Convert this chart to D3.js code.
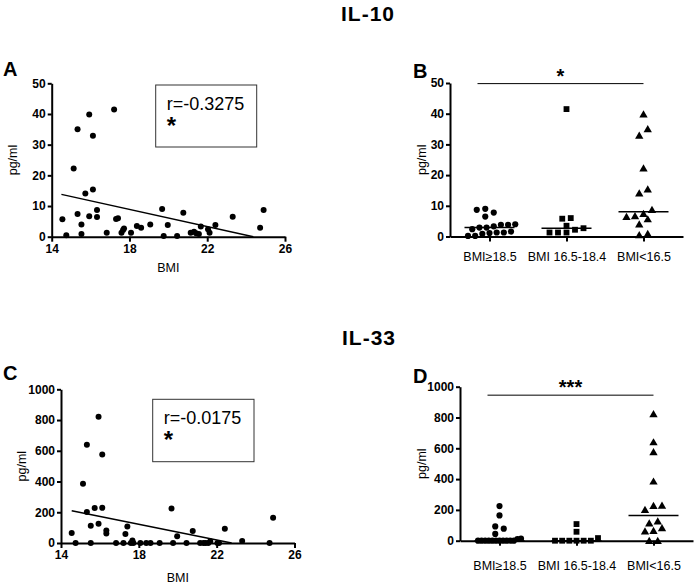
<!DOCTYPE html>
<html>
<head>
<meta charset="utf-8">
<script src="https://cdn.jsdelivr.net/npm/d3@7"></script>
<style>
  html, body { margin: 0; padding: 0; background: #fff; }
  svg { display: block; font-family: "Liberation Sans", Arial, sans-serif; }
</style>
</head>
<body>
<svg id="chart" width="696" height="585"></svg>
<script>
// ---------------- DATA ----------------
// BMI of each patient (shared by panels A and C)
const bmi = [14.55, 14.75, 15.13, 15.33, 15.33, 15.53, 15.53, 15.73, 15.93, 15.93,
             16.12, 16.12, 16.33, 16.33, 16.83, 17.21, 17.31, 17.41, 17.59, 17.67,
             17.72, 18.08, 18.38, 18.6, 19.07, 19.68, 19.76, 19.97, 20.45, 20.77,
             21.15, 21.32, 21.43, 21.57, 21.67, 22.04, 22.12, 22.42, 23.31, 24.72, 24.9];
// IL-10 (pg/ml) per patient
const il10 = [5.65, 0.5, 22.2, 35.0, 7.4, 4.0, 0.9, 14.1, 39.8, 6.7,
              32.9, 15.4, 8.7, 6.4, 1.3, 41.5, 5.8, 6.0, 1.3, 2.2,
              2.7, 1.3, 3.5, 2.9, 4.0, 9.0, 0.2, 3.8, 0.2, 7.8,
              1.3, 1.6, 1.1, 0.9, 3.3, 2.4, 1.3, 3.8, 6.5, 2.9, 8.7];
// IL-33 (pg/ml) per patient
const il33 = [65, 0, 385, 640, 201, 113, 0, 227, 822, 126,
              576, 229, 82, 61, 0, 0, 58, 108, 0, 17,
              0, 0, 0, 0, 0, 225, 0, 44, 0, 78,
              0, 0, 0, 0, 11, 0, 0, 93, 13, 0, 164];

const groupLabels = ["BMI\u226518.5", "BMI 16.5-18.4", "BMI<16.5"];
const groupMin = [18.5, 16.5, -Infinity];   // lower BMI bound of each group
const bmiTicks = [14, 18, 22, 26];
const il10Ticks = [0, 10, 20, 30, 40, 50];
const il33Ticks = [0, 200, 400, 600, 800, 1000];

// regression lines (end points)
const fitBmi10 = [14.5, 24.37], fitIl10 = [13.8, 0];
const fitBmi33 = [14.55, 22.77], fitIl33 = [210, 0];

const rLabels = ["r=-0.3275", "r=-0.0175"];
const rStars = ["*", "*"];
const sigStars = ["*", "***"];
const sigLevel = [49.8, 945];

// ---------------- LAYOUT ----------------
const svg = d3.select("#chart");
const FONT = "'Liberation Sans', Arial, sans-serif";
const fmt = d3.format("d");

function groupOf(b) { return groupMin.findIndex(m => b >= m); }

function styleTickText(sel, size, bold) {
  sel.style("font-family", FONT).style("font-size", size + "px")
    .style("font-weight", bold ? "bold" : "normal").attr("fill", "#000");
}

function yAxis(g, y, ticks) {
  const ax = g.append("g").attr("transform", `translate(${y.xPos},0)`)
    .call(d3.axisLeft(y).tickValues(ticks).tickFormat(fmt).tickSize(4).tickSizeOuter(0).tickPadding(2));
  ax.select(".domain").attr("stroke", "#000").attr("stroke-width", 2);
  ax.selectAll(".tick line").attr("stroke", "#000").attr("stroke-width", 2);
  styleTickText(ax.selectAll(".tick text"), 12, true);
  return ax;
}

function scatterPanel(p) {
  const g = svg.append("g");
  const x = d3.scaleLinear().domain([14, 26]).range([p.x0, p.x1]);
  const y = d3.scaleLinear().domain([0, p.ymax]).range([p.y0, p.y1]);
  y.xPos = p.x0;
  const xa = g.append("g").attr("transform", `translate(0,${p.y0})`)
    .call(d3.axisBottom(x).tickValues(bmiTicks).tickFormat(fmt).tickSize(5).tickSizeOuter(0).tickPadding(p.xPad));
  xa.select(".domain").attr("stroke", "#000").attr("stroke-width", 2);
  xa.selectAll(".tick line").attr("stroke", "#000").attr("stroke-width", 2);
  styleTickText(xa.selectAll(".tick text"), 12, true);
  yAxis(g, y, p.ticks);

  g.selectAll("circle.pt").data(bmi.map((b, i) => [b, p.values[i]])).join("circle")
    .attr("class", "pt").attr("cx", d => x(d[0])).attr("cy", d => y(d[1]))
    .attr("r", 3).attr("fill", "#000");

  g.append("line")
    .attr("x1", x(p.fitX[0])).attr("y1", y(p.fitY[0]))
    .attr("x2", x(p.fitX[1])).attr("y2", y(p.fitY[1]))
    .attr("stroke", "#000").attr("stroke-width", 1.5);

  // r box
  g.append("rect").attr("x", p.box[0]).attr("y", p.box[1])
    .attr("width", p.box[2]).attr("height", p.box[3])
    .attr("fill", "none").attr("stroke", "#333").attr("stroke-width", 1);
  g.append("text").attr("x", p.box[0] + 11).attr("y", p.box[1] + 25)
    .attr("font-family", FONT).attr("font-size", 18).text(p.rLabel);
  g.append("text").attr("x", p.box[0] + 11).attr("y", p.box[1] + 49)
    .attr("font-family", FONT).attr("font-size", 24).attr("font-weight", "bold").text(p.rStar);

  g.append("text").attr("x", (p.x0 + p.x1) / 2).attr("y", p.xTitleY)
    .attr("text-anchor", "middle").attr("font-family", FONT).attr("font-size", 12.5).text("BMI");
  g.append("text").attr("transform", `translate(${p.yTitleX},${(p.y0 + p.y1) / 2}) rotate(-90)`)
    .attr("text-anchor", "middle").attr("font-family", FONT).attr("font-size", 12.5).text("pg/ml");
  g.append("text").attr("x", p.letter[0]).attr("y", p.letter[1])
    .attr("font-family", FONT).attr("font-size", 20).attr("font-weight", "bold").text(p.letterText);
}

// row-based column scatter layout (like Prism)
function swarm(vals, y, spacing, maxW, rowTol, minDist) {
  const idx = d3.range(vals.length).sort((a, b) => vals[a] - vals[b]);
  const rows = [];
  let cur = null;
  idx.forEach(i => {
    const py = y(vals[i]);
    if (!cur || Math.abs(py - cur.py0) > rowTol) { cur = { py0: py, items: [] }; rows.push(cur); }
    cur.items.push(i);
  });
  const placed = [];
  const out = new Array(vals.length);
  rows.forEach(r => {
    const n = r.items.length;
    const s = n > 1 ? Math.min(spacing, maxW / (n - 1)) : 0;
    const base = r.items.map((i, k) => (k - (n - 1) / 2) * s);
    const shifts = [0];
    for (let k = 1; k <= 8; k++) { shifts.push(k * spacing / 2, -k * spacing / 2); }
    let chosen = 0;
    for (const sh of shifts) {
      const ok = r.items.every((i, k) => placed.every(q =>
        Math.hypot(q.dx - (base[k] + sh), q.py - y(vals[i])) >= minDist));
      if (ok) { chosen = sh; break; }
    }
    r.items.forEach((i, k) => {
      const o = { dx: base[k] + chosen, py: y(vals[i]) };
      placed.push(o); out[i] = o.dx;
    });
  });
  return out;
}

function columnPanel(p) {
  const g = svg.append("g");
  const x = d3.scalePoint().domain(d3.range(3)).range([p.x0, p.x1]).padding(0.513);
  const y = d3.scaleLinear().domain([0, p.ymax]).range([p.y0, p.y1]);
  y.xPos = p.x0;
  const xa = g.append("g").attr("transform", `translate(0,${p.y0})`)
    .call(d3.axisBottom(x).tickSize(5).tickSizeOuter(0).tickPadding(p.xPad).tickFormat(i => groupLabels[i]));
  xa.select(".domain").attr("stroke", "#000").attr("stroke-width", 2);
  xa.selectAll(".tick line").attr("stroke", "#000").attr("stroke-width", 2);
  styleTickText(xa.selectAll(".tick text"), 12.5, false);
  yAxis(g, y, p.ticks);

  const sym = [d3.symbolCircle, d3.symbolSquare, d3.symbolTriangle];
  const symSize = [30, 34, 30];
  for (let gi = 0; gi < 3; gi++) {
    const vals = p.values.filter((v, i) => groupOf(bmi[i]) === gi);
    const dx = swarm(vals, y, 8.5, 43, 6.6, 6.2);
    g.append("g").selectAll("path").data(vals).join("path")
      .attr("d", d3.symbol().type(sym[gi]).size(symSize[gi]))
      .attr("transform", (v, k) => `translate(${x(gi) + dx[k]},${y(v) + (gi === 2 ? 0.8 : 0)})`)
      .attr("fill", "#000");
    const med = d3.median(vals);
    g.append("line").attr("x1", x(gi) - 25).attr("x2", x(gi) + 25)
      .attr("y1", y(med)).attr("y2", y(med)).attr("stroke", "#000").attr("stroke-width", 1.5);
  }
  // significance bar
  const sy = y(p.sig);
  g.append("line").attr("x1", x(0) - 12).attr("x2", x(2)).attr("y1", sy).attr("y2", sy)
    .attr("stroke", "#000").attr("stroke-width", 1);
  g.append("text").attr("x", (x(0) - 12 + x(2)) / 2).attr("y", sy - 1).attr("text-anchor", "middle")
    .attr("font-family", FONT).attr("font-size", 20).attr("font-weight", "bold").text(p.sigText);

  g.append("text").attr("transform", `translate(${p.yTitleX},${(p.y0 + p.y1) / 2}) rotate(-90)`)
    .attr("text-anchor", "middle").attr("font-family", FONT).attr("font-size", 12.5).text("pg/ml");
  g.append("text").attr("x", p.letter[0]).attr("y", p.letter[1])
    .attr("font-family", FONT).attr("font-size", 20).attr("font-weight", "bold").text(p.letterText);
}

// titles
svg.append("text").attr("x", 368).attr("y", 21).attr("text-anchor", "middle")
  .attr("font-family", FONT).attr("font-size", 21).attr("font-weight", "bold")
  .attr("letter-spacing", 1).text("IL-10");
svg.append("text").attr("x", 369).attr("y", 345).attr("text-anchor", "middle")
  .attr("font-family", FONT).attr("font-size", 21).attr("font-weight", "bold")
  .attr("letter-spacing", 1).text("IL-33");

scatterPanel({ x0: 51.7, x1: 285, y0: 236.7, y1: 83.3, ymax: 50, ticks: il10Ticks, values: il10,
  fitX: fitBmi10, fitY: fitIl10, box: [155.7, 85, 101, 62], rLabel: rLabels[0], rStar: rStars[0],
  xPad: 3, xTitleY: 272, yTitleX: 17, letter: [3, 76], letterText: "A" });
scatterPanel({ x0: 61, x1: 294.5, y0: 543, y1: 389.3, ymax: 1000, ticks: il33Ticks, values: il33,
  fitX: fitBmi33, fitY: fitIl33, box: [152.7, 399.3, 101.3, 62.4], rLabel: rLabels[1], rStar: rStars[1],
  xPad: 2, xTitleY: 582, yTitleX: 25.5, letter: [3, 380], letterText: "C" });
columnPanel({ x0: 450, x1: 683, y0: 236.5, y1: 83, ymax: 50, ticks: il10Ticks, values: il10,
  sig: sigLevel[0], sigText: sigStars[0], xPad: 10.5, yTitleX: 425.5, letter: [413, 78], letterText: "B" });
columnPanel({ x0: 460, x1: 693, y0: 540.7, y1: 386.7, ymax: 1000, ticks: il33Ticks, values: il33,
  sig: sigLevel[1], sigText: sigStars[1], xPad: 15, yTitleX: 425.5, letter: [413, 383], letterText: "D" });
</script>
</body>
</html>
